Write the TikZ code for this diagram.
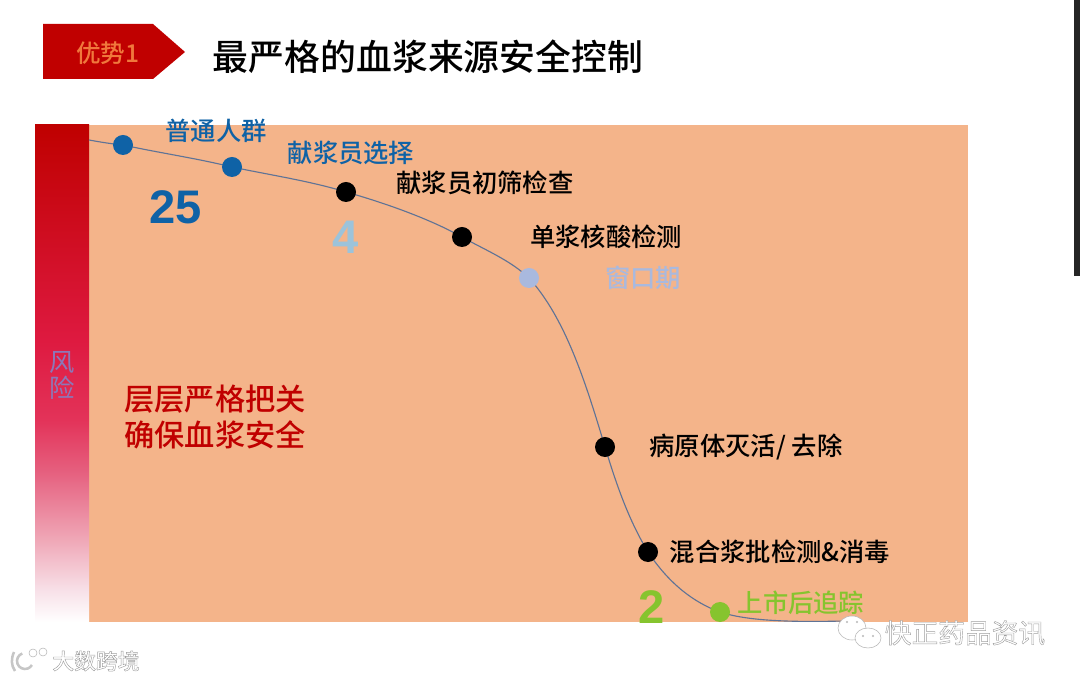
\documentclass[tikz,border=0pt]{standalone}
\usepackage{fontspec}
\usetikzlibrary{backgrounds}
\setmainfont{Liberation Sans}
\newfontfamily\cjk{Noto Sans CJK SC}[BoldFont=Noto Sans CJK SC Medium]
\definecolor{brandred}{HTML}{C00000}
\definecolor{panelorange}{HTML}{F4B48A}
\definecolor{popblue}{HTML}{0F62A6}
\definecolor{paleblue}{HTML}{9CC3DA}
\definecolor{windowblue}{HTML}{A9B9DE}
\definecolor{trackgreen}{HTML}{86C42E}
\definecolor{riskpurple}{HTML}{8C78B8}
\definecolor{markgray}{HTML}{B8B8B8}
\definecolor{curvegray}{HTML}{5F7396}
\definecolor{badgeorange}{HTML}{F0783C}
\pgfdeclareverticalshading{riskbar}{100bp}{
    rgb(0bp)=(1,1,1);
    rgb(25bp)=(1,1,1);
    rgb(28.2bp)=(0.97,0.88,0.91);
    rgb(33.2bp)=(0.94,0.66,0.72);
    rgb(40bp)=(0.90,0.38,0.50);
    rgb(45.3bp)=(0.89,0.20,0.35);
    rgb(53.4bp)=(0.87,0.10,0.25);
    rgb(75bp)=(0.75,0,0);
    rgb(100bp)=(0.75,0,0)
}
\newcommand{\hollow}[1]{\special{pdf:code 2 Tr 0.3 w 0.62 G}#1\special{pdf:code 0 Tr}}
\begin{document}
\begin{tikzpicture}[
    x=0.025cm,
    y=-0.025cm,
    font=\cjk,
    lbl/.style={
        inner sep=0pt,
        font=\cjk\bfseries\fontsize{18}{22}\selectfont
    },
    num/.style={
        inner sep=0pt,
        font=\fontsize{33.5}{36}\selectfont\bfseries
    },
    dot/.style={
        circle,
        inner sep=0pt,
        minimum size=0.5cm,
        fill=black
    },
    wmark/.style={
        inner sep=0pt,
        text=white
    },
    curve/.style={draw=curvegray, line width=0.8pt}
]
\useasboundingbox (0,0) rectangle (1080,681);

% ---------------------------------------------------------------------------
% Header
% ---------------------------------------------------------------------------
\fill[brandred] (43,24) -- (153,24) -- (185,52) -- (153,79) -- (43,79) -- cycle;
\node[inner sep=0pt, text=badgeorange, font=\cjk\bfseries\fontsize{17.5}{20}\selectfont] (badge) at (108,53) {优势1};
\node[inner sep=0pt, font=\cjk\bfseries\fontsize{25.5}{30}\selectfont] (title) at (428,57) {最严格的血浆来源安全控制};

% ---------------------------------------------------------------------------
% Curve stations
% ---------------------------------------------------------------------------
\coordinate (start) at (89,140);
\coordinate (finish) at (845,621);
\node[dot, fill=popblue] (crowd) at (123,145) {};
\node[dot, fill=popblue] (select) at (232,167) {};
\node[dot] (screen) at (346,192) {};
\node[dot] (nat) at (462,237) {};
\node[dot, fill=windowblue] (window) at (529,278) {};
\node[dot] (inact) at (605,447) {};
\node[dot] (pool) at (648,552) {};
\node[dot, fill=trackgreen] (track) at (720,612) {};

% ---------------------------------------------------------------------------
% Panel, risk bar and curve
% ---------------------------------------------------------------------------
\begin{scope}[on background layer]
\fill[panelorange] (89,125) rectangle (968,622);
\shade[shading=riskbar] (35,125) rectangle (89,622);
\draw[curve] (start) .. controls (100,142) and (112,144) .. (crowd.center)
    .. controls (160,153) and (195,158) .. (select.center)
    .. controls (270,175) and (310,181) .. (screen.center)
    .. controls (385,203) and (430,219) .. (nat.center)
    .. controls (485,250) and (510,260) .. (window.center)
    .. controls (565,318) and (585,380) .. (inact.center)
    .. controls (618,490) and (630,522) .. (pool.center)
    .. controls (670,585) and (695,603) .. (track.center)
    .. controls (750,622) and (800,622) .. (finish);
\end{scope}
\node[inner sep=0pt, align=center, text=riskpurple, font=\cjk\fontsize{18}{18.5}\selectfont] (risk) at (62,375) {风\\险};
\fill[black!85] (1074,0) rectangle (1080,276);

% ---------------------------------------------------------------------------
% Labels
% ---------------------------------------------------------------------------
\node[lbl, text=popblue] (crowdlbl) at (216,131) {普通人群};
\node[lbl, text=popblue] (selectlbl) at (351,153) {献浆员选择};
\node[lbl] (screenlbl) at (485,183) {献浆员初筛检查};
\node[lbl] (natlbl) at (606,237) {单浆核酸检测};
\node[lbl, text=windowblue] (windowlbl) at (643,278) {窗口期};
\node[lbl] (inactlbl) at (746,447) {病原体灭活/ 去除};
\node[lbl] (poollbl) at (780,552) {混合浆批检测\&消毒};
\node[lbl, text=trackgreen] (tracklbl) at (801,603) {上市后追踪};
\node[num, text=popblue] (n25) at (176,207) {25};
\node[num, text=paleblue] (n4) at (346,237) {4};
\node[num, text=trackgreen] (n2) at (652,607) {2};
\node[inner sep=0pt, align=center, text=brandred, font=\cjk\bfseries\fontsize{21.5}{25.5}\selectfont] (slogan) at (215,417) {层层严格把关\\确保血浆安全};

% ---------------------------------------------------------------------------
% Watermarks
% ---------------------------------------------------------------------------
\filldraw[fill=white, draw=markgray] (852,628) ellipse (14 and 12);
\filldraw[fill=white, draw=markgray] (868,638) ellipse (13 and 10);
\fill[markgray] (847,622) circle (1.2) (857,622) circle (1.2) (863,636) circle (1.2) (873,636) circle (1.2);
\node[wmark, font=\cjk\fontsize{19}{22}\selectfont] (wechat) at (965,633) {\hollow{快正药品资讯}};
\draw[markgray!80, line width=1.8pt] (14,652) .. controls (11,659) and (11,665) .. (15,671);
\draw[markgray!80, line width=1.8pt] (25,661) ++(250:8) arc (250:30:8);
\draw[markgray] (33,653) circle (4) (43,652) circle (4);
\node[wmark, font=\cjk\bfseries\fontsize{15.5}{18}\selectfont] (cross) at (96,661) {\hollow{大数跨境}};
\end{tikzpicture}
\end{document}
